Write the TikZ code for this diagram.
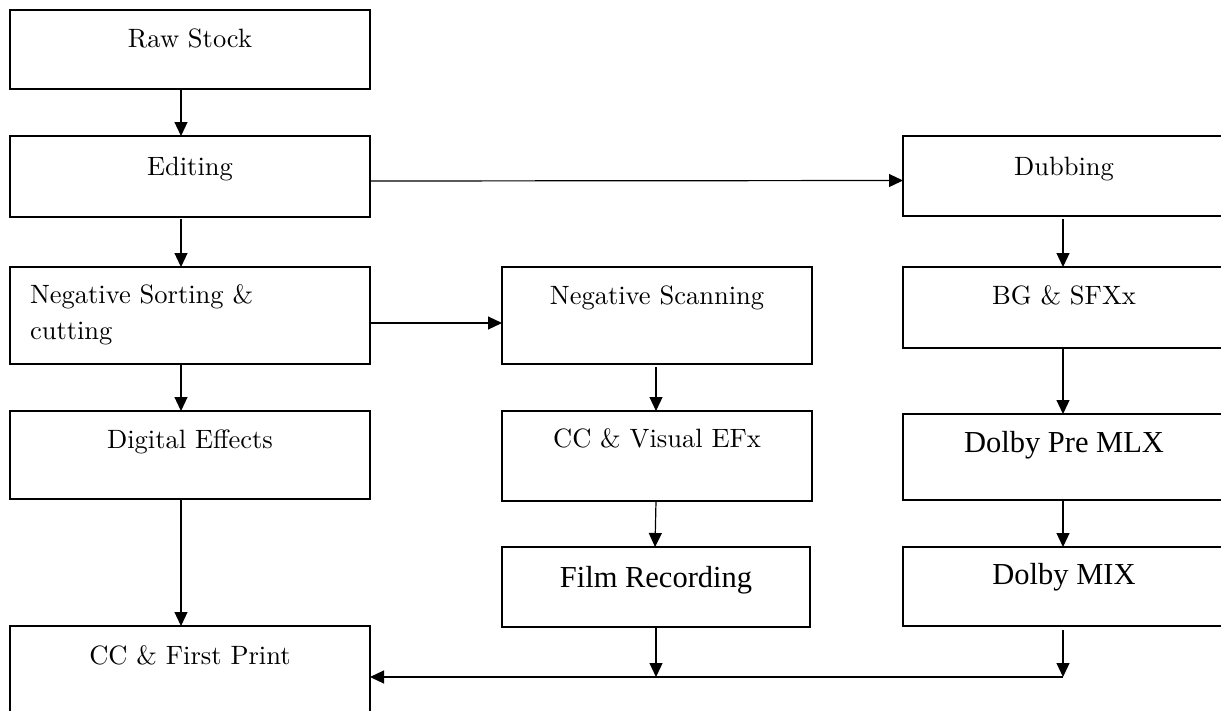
\documentclass[tikz,border=0pt]{standalone}
\usepackage{fontspec}
\setmainfont{lmroman10-regular.otf}
\newfontfamily\timesfont{Liberation Serif}
\usetikzlibrary{arrows.meta}
\newcommand\bx[4]{\parbox[c][#2][t]{#1}{\centering\rule{0pt}{#3}#4}}
\tikzset{
  box/.style={draw, line width=1.5pt, inner sep=0pt, outer sep=0pt, anchor=north west,
    font=\fontsize{26.5}{36}\selectfont},
  tbox/.style={box, font={\timesfont\fontsize{30.5}{36}\selectfont}},
  arr/.style={line width=1.2pt, -{Triangle[length=14pt,width=13pt]}},
  ln/.style={line width=1.2pt}
}
\begin{document}
\begin{tikzpicture}[x=1pt,y=-1pt]
\useasboundingbox (0,0) rectangle (1221,710);
% left column
\node[box] (raw) at (10,10) {\bx{360pt}{79pt}{37pt}{Raw Stock}};
\node[box] (edit) at (10,136) {\bx{360pt}{81pt}{39pt}{Editing}};
\node[box] (nsort) at (10,267) {\parbox[c][97pt][t]{360pt}{\raggedright\leftskip=20pt\rule{0pt}{36pt}Negative Sorting \&\\cutting}};
\node[box] (dig) at (10,411) {\bx{360pt}{88pt}{37pt}{Digital Effects}};
\node[box] (ccf) at (10,626) {\bx{360pt}{92pt}{38pt}{CC \& First Print}};
% middle column
\node[box] (nscan) at (502,267) {\bx{310pt}{97pt}{37pt}{Negative Scanning}};
\node[box] (ccv) at (502,411) {\bx{310pt}{90pt}{36pt}{CC \& Visual EFx}};
\node[tbox] (film) at (502,547) {\bx{308pt}{80pt}{40pt}{Film Recording}};
% right column
\node[box] (dub) at (903,136) {\bx{322pt}{80pt}{39pt}{Dubbing}};
\node[box] (bg) at (903,267) {\bx{322pt}{81pt}{37pt}{BG \& SFXx}};
\node[tbox] (dpre) at (903,414) {\bx{322pt}{86pt}{38pt}{Dolby Pre MLX}};
\node[tbox] (dmix) at (903,547) {\bx{322pt}{79pt}{37pt}{Dolby MIX}};
% junction points
\coordinate (jm) at (656,677);
\coordinate (jr) at (1063,677);
% connectors
\draw[arr] ([xshift=-9pt]raw.south) -- ([xshift=-9pt]edit.north);
\draw[arr] ([xshift=-9pt,yshift=-2pt]edit.south) -- ([xshift=-9pt]nsort.north);
\draw[arr] ([yshift=-4.5pt]edit.east) -- ([yshift=-4.5pt]dub.west);
\draw[arr] ([yshift=-7.5pt]nsort.east) -- ([yshift=-7.5pt]nscan.west);
\draw[arr] ([xshift=-9pt]nsort.south) -- ([xshift=-9pt]dig.north);
\draw[arr] ([xshift=-9pt]dig.south) -- ([xshift=-9pt]ccf.north);
\draw[arr] ([xshift=-1pt,yshift=-3pt]nscan.south) -- ([xshift=-1pt]ccv.north);
\draw[arr] ([xshift=-1pt]ccv.south) -- ([xshift=-1pt]film.north);
\draw[arr] (film.south -| jm) -- (jm);
\draw[arr] ([xshift=-1pt,yshift=-3pt]dub.south) -- ([xshift=-1pt]bg.north);
\draw[arr] ([xshift=-1pt]bg.south) -- ([xshift=-1pt]dpre.north);
\draw[arr] ([xshift=-1pt]dpre.south) -- ([xshift=-1pt]dmix.north);
\draw[arr] ([yshift=-4pt]dmix.south -| jr) -- (jr);
\draw[arr] (jr) -- (jr -| ccf.east);
\end{tikzpicture}
\end{document}
